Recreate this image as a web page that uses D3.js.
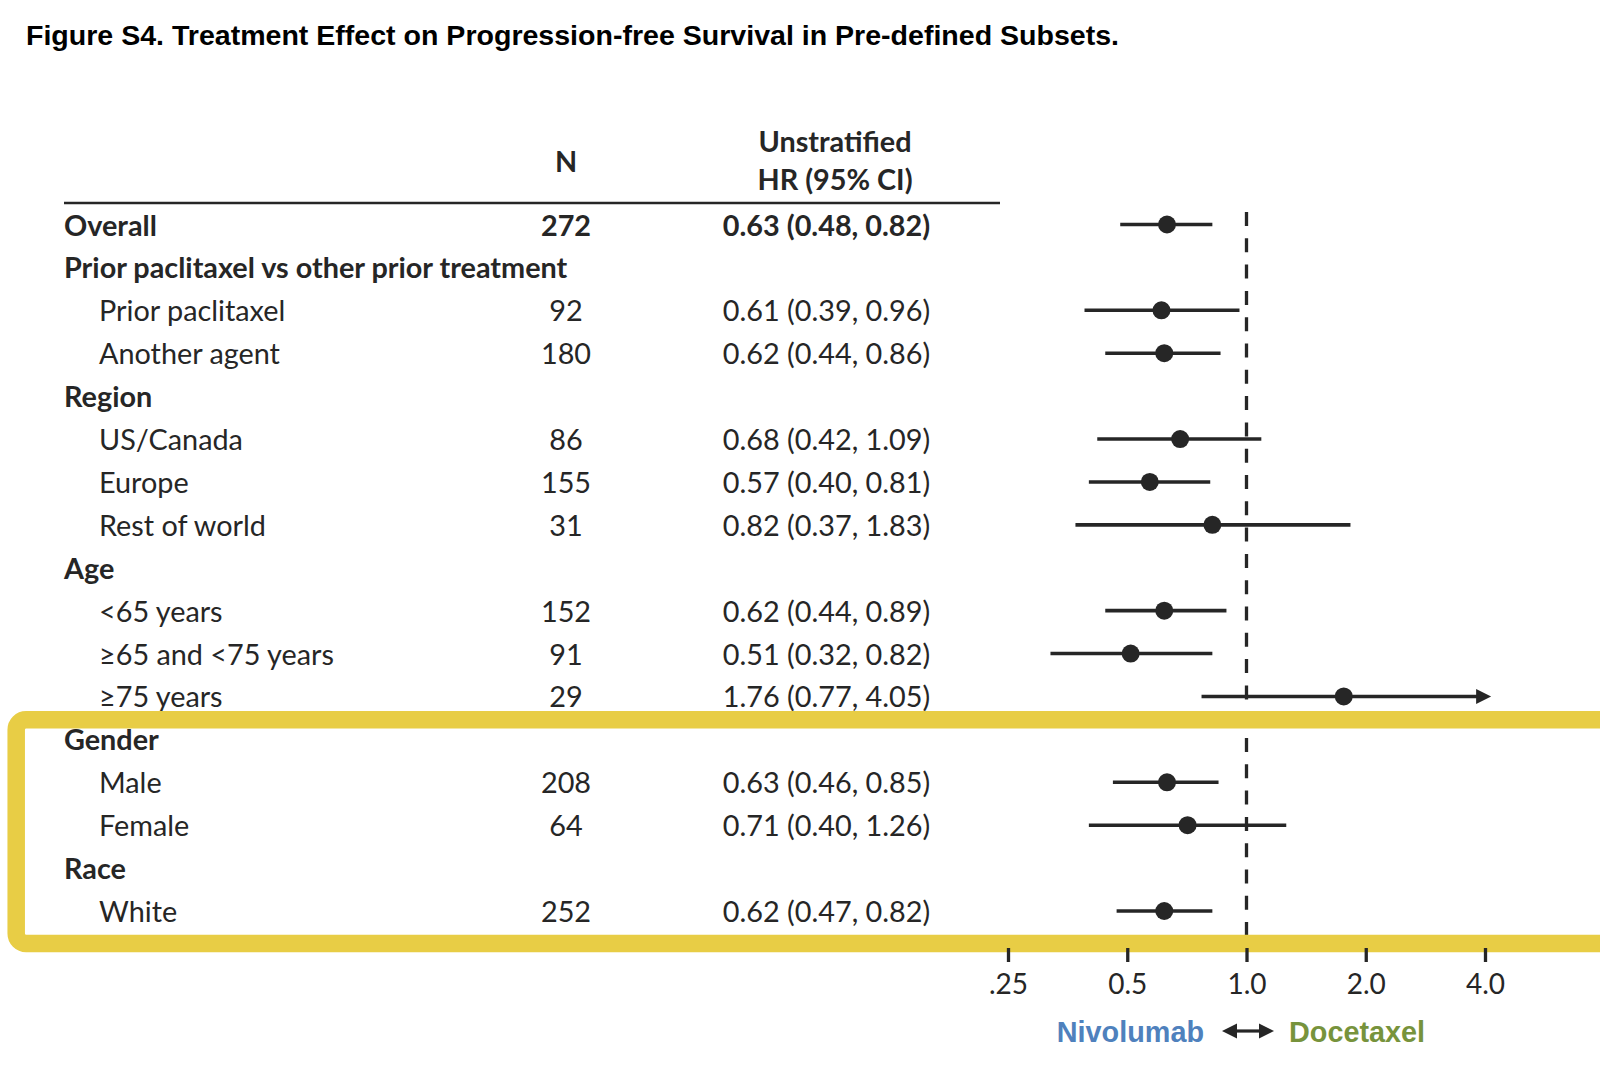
<!DOCTYPE html>
<html>
<head>
<meta charset="utf-8">
<script src="https://cdn.jsdelivr.net/npm/d3@7"></script>
<style>
  body { margin: 0; background: #fff; }
  svg { display: block; }
</style>
</head>
<body>
<div id="chart-wrap"></div>
<script>
// subgroup rows, top to bottom
const labels = ["Overall", "Prior paclitaxel vs other prior treatment", "Prior paclitaxel", "Another agent",
  "Region", "US/Canada", "Europe", "Rest of world",
  "Age", "<65 years", "\u226565 and <75 years", "\u226575 years",
  "Gender", "Male", "Female", "Race", "White"];
const rowType = ["overall", "group", "sub", "sub", "group", "sub", "sub", "sub",
  "group", "sub", "sub", "sub", "group", "sub", "sub", "group", "sub"];
const nValues = [272, null, 92, 180, null, 86, 155, 31, null, 152, 91, 29, null, 208, 64, null, 252];
const hr = [0.63, null, 0.61, 0.62, null, 0.68, 0.57, 0.82, null, 0.62, 0.51, 1.76, null, 0.63, 0.71, null, 0.62];
const lower = [0.48, null, 0.39, 0.44, null, 0.42, 0.40, 0.37, null, 0.44, 0.32, 0.77, null, 0.46, 0.40, null, 0.47];
const upper = [0.82, null, 0.96, 0.86, null, 1.09, 0.81, 1.83, null, 0.89, 0.82, 4.05, null, 0.85, 1.26, null, 0.82];
const tickValues = [0.25, 0.5, 1, 2, 4];
const tickLabels = [".25", "0.5", "1.0", "2.0", "4.0"];

const width = 1600;
const height = 1065;
const bodyFont = "Lato, 'Open Sans', sans-serif";
const bodySize = 28.8;
const ink = "#262626";

const svg = d3.select("#chart-wrap")
  .append("svg")
  .attr("width", width)
  .attr("height", height);

svg.append("text")
  .attr("x", 26).attr("y", 45)
  .attr("font-family", "'Liberation Sans', Arial, sans-serif")
  .attr("font-weight", "bold")
  .attr("font-size", 28.5)
  .attr("textLength", 1093)
  .attr("lengthAdjust", "spacingAndGlyphs")
  .attr("fill", "#000")
  .text("Figure S4. Treatment Effect on Progression-free Survival in Pre-defined Subsets.");

const rows = labels.map((l, i) => ({
  label: l, type: rowType[i], n: nValues[i], hr: hr[i], lo: lower[i], hi: upper[i], i: i
}));

const y = d3.scalePoint()
  .domain(rows.map(d => d.i))
  .range([225.5, 912]);

const x = d3.scaleLog()
  .base(2)
  .domain([0.25, 4])
  .range([1008, 1485]);

// column headers
const head = svg.append("g")
  .attr("font-family", bodyFont)
  .attr("font-weight", "bold")
  .attr("font-size", bodySize)
  .attr("fill", ink)
  .attr("text-anchor", "middle");
head.append("text").attr("x", 566).attr("y", 171.5).text("N");
head.append("text").attr("x", 835).attr("y", 152).text("Unstratified");
head.append("text").attr("x", 835).attr("y", 190).text("HR (95% CI)");

svg.append("line")
  .attr("x1", 64).attr("x2", 1000)
  .attr("y1", 203).attr("y2", 203)
  .attr("stroke", ink).attr("stroke-width", 2.6);

// table text
const table = svg.append("g")
  .attr("font-family", bodyFont)
  .attr("font-size", bodySize)
  .attr("fill", ink);

const fmt = d3.format(".2f");

const row = table.selectAll("g.row")
  .data(rows)
  .join("g")
  .attr("class", "row")
  .attr("transform", d => `translate(0,${y(d.i) + 10})`)
  .attr("font-weight", d => d.type === "sub" ? "normal" : "bold");

row.append("text")
  .attr("x", d => d.type === "sub" ? 99 : 64)
  .text(d => d.label);

row.filter(d => d.n !== null)
  .append("text")
  .attr("x", 566)
  .attr("text-anchor", "middle")
  .text(d => d.n);

row.filter(d => d.hr !== null)
  .append("text")
  .attr("x", 826.5)
  .attr("text-anchor", "middle")
  .text(d => `${fmt(d.hr)} (${fmt(d.lo)}, ${fmt(d.hi)})`);

// reference line at HR = 1
svg.append("line")
  .attr("x1", x(1)).attr("x2", x(1))
  .attr("y1", 212).attr("y2", 936)
  .attr("stroke", ink)
  .attr("stroke-width", 3.3)
  .attr("stroke-dasharray", "14,12.3");

// forest marks
const plotted = rows.filter(d => d.hr !== null);
const xMax = 4;
const forest = svg.append("g");

forest.selectAll("line.ci")
  .data(plotted)
  .join("line")
  .attr("class", "ci")
  .attr("x1", d => x(d.lo))
  .attr("x2", d => d.hi > xMax ? x(d.hi) - 8 : x(d.hi))
  .attr("y1", d => y(d.i) - 1)
  .attr("y2", d => y(d.i) - 1)
  .attr("stroke", ink)
  .attr("stroke-width", 3.6);

forest.selectAll("path.arrow")
  .data(plotted.filter(d => d.hi > xMax))
  .join("path")
  .attr("class", "arrow")
  .attr("d", d => {
    const tx = x(d.hi) + 4, ty = y(d.i) - 1;
    return `M${tx},${ty}L${tx - 15},${ty - 7.5}L${tx - 15},${ty + 7.5}Z`;
  })
  .attr("fill", ink);

forest.selectAll("circle.pt")
  .data(plotted)
  .join("circle")
  .attr("class", "pt")
  .attr("cx", d => x(d.hr))
  .attr("cy", d => y(d.i) - 1)
  .attr("r", 9)
  .attr("fill", ink);

// highlight box around Gender / Race
svg.append("rect")
  .attr("x", 16.2).attr("y", 719.7)
  .attr("width", 1640).attr("height", 223.8)
  .attr("rx", 10)
  .attr("fill", "none")
  .attr("stroke", "#E8CD45")
  .attr("stroke-width", 17.5);

// axis (ticks and labels only)
const axis = svg.append("g")
  .attr("transform", "translate(0,948)")
  .call(d3.axisBottom(x)
    .tickValues(tickValues)
    .tickFormat((d, i) => tickLabels[i])
    .tickSize(14)
    .tickPadding(12));
axis.select(".domain").remove();
axis.selectAll(".tick line").attr("stroke", ink).attr("stroke-width", 3.3);
axis.selectAll(".tick text")
  .attr("font-family", bodyFont)
  .attr("font-size", 28)
  .attr("fill", ink);

// direction legend
const legendFont = "'Liberation Sans', Arial, sans-serif";
svg.append("text")
  .attr("x", 1204).attr("y", 1041.5)
  .attr("text-anchor", "end")
  .attr("font-family", legendFont)
  .attr("font-weight", "bold")
  .attr("font-size", 28.8)
  .attr("fill", "#4F81BD")
  .text("Nivolumab");
svg.append("text")
  .attr("x", 1289).attr("y", 1041.5)
  .attr("font-family", legendFont)
  .attr("font-weight", "bold")
  .attr("font-size", 28.8)
  .attr("fill", "#77933C")
  .text("Docetaxel");

const ay = 1031;
svg.append("line")
  .attr("x1", 1232).attr("x2", 1263)
  .attr("y1", ay).attr("y2", ay)
  .attr("stroke", ink).attr("stroke-width", 3.2);
svg.append("path")
  .attr("d", `M1222,${ay}L1237,${ay - 7.5}L1237,${ay + 7.5}Z M1274,${ay}L1259,${ay - 7.5}L1259,${ay + 7.5}Z`)
  .attr("fill", ink);
</script>
</body>
</html>
